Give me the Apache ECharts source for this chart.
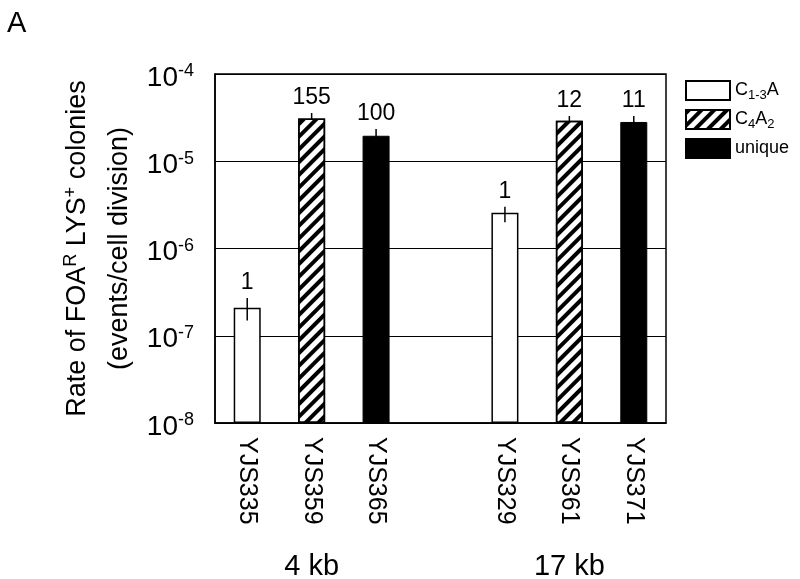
<!DOCTYPE html>
<html><head><meta charset="utf-8">
<script src="https://cdn.jsdelivr.net/npm/echarts@6/dist/echarts.min.js"></script>
<style>html,body{margin:0;padding:0;background:#fff}#c{width:800px;height:579px}</style>
</head><body><div id="c"></div>
<script>
// ---- data ----
const categories = ['YJS335', 'YJS359', 'YJS365', '', 'YJS329', 'YJS361', 'YJS371'];
const groupLabels = ['', '4 kb', '', '', '', '17 kb', ''];
const seriesNames = ['C1-3A', 'C4A2', 'unique'];
const rateC13A   = [2.1e-7, null, null, null, 2.57e-6, null, null];
const rateC4A2   = [null, 3.1e-5, null, null, null, 2.92e-5, null];
const rateUnique = [null, null, 1.96e-5, null, null, null, 2.82e-5];
const errLow  = [1.5e-7, 2.7e-5, 1.7e-5, null, 2.0e-6, 2.6e-5, 2.5e-5];
const errHigh = [2.7e-7, 3.57e-5, 2.34e-5, null, 3.0e-6, 3.3e-5, 3.3e-5];
const counts  = ['1', '155', '100', '', '1', '12', '11'];
const yMin = 1e-8, yMax = 1e-4;

const FONT = 'Liberation Sans, Arial, Helvetica, sans-serif';

function errData(rates) {
  const out = [];
  rates.forEach((v, i) => { if (v != null) out.push([i, errLow[i], errHigh[i]]); });
  return out;
}
function renderErr(params, api) {
  const x = api.value(0);
  const lo = api.coord([x, api.value(1)]);
  const hi = api.coord([x, api.value(2)]);
  return {
    type: 'group',
    children: [
      { type: 'line', shape: { x1: lo[0], y1: lo[1], x2: hi[0], y2: hi[1] },
        style: { stroke: '#000', lineWidth: 1.5 } },
      { type: 'text', x: hi[0], y: hi[1] - 4,
        style: { text: counts[x], fontSize: 23, fontFamily: FONT, fill: '#000',
                 align: 'center', verticalAlign: 'bottom' } }
    ]
  };
}
function errSeries(rates, z) {
  return { type: 'custom', coordinateSystem: 'cartesian2d', silent: true, z: z,
    encode: { x: 0, y: [1, 2] }, data: errData(rates), renderItem: renderErr };
}
const legendRich = {
  'C1-3A': '{n|C}{sub|1-3}{n|A}',
  'C4A2': '{n|C}{sub|4}{n|A}{sub|2}',
  'unique': '{n|unique}'
};

const chart = echarts.init(document.getElementById('c'), null, { renderer: 'canvas' });
chart.setOption({
  animation: false,
  backgroundColor: '#fff',
  textStyle: { fontFamily: FONT, color: '#000' },
  graphic: [{ type: 'text', left: 7, top: 9,
    style: { text: 'A', fontSize: 29, fontFamily: FONT, fill: '#000' } }],
  grid: { left: 215, right: 134, top: 74, bottom: 156, show: true, outerBoundsMode: 'none',
    containLabel: false, borderColor: '#000', borderWidth: 1.5, backgroundColor: 'transparent' },
  legend: {
    orient: 'vertical', left: 680, top: 75, itemWidth: 44, itemHeight: 19, itemGap: 7,
    icon: 'rect', data: seriesNames,
    formatter: name => legendRich[name],
    textStyle: { color: '#000', fontFamily: FONT,
      rich: { n: { fontSize: 18, fontFamily: FONT, color: '#000' },
              sub: { fontSize: 13, fontFamily: FONT, color: '#000', padding: [10, 0, 0, 0] } } }
  },
  xAxis: [{
    type: 'category', data: categories,
    axisLine: { show: true, lineStyle: { color: '#000', width: 1.5 } },
    axisTick: { show: false },
    axisLabel: { interval: 0, rotate: -90, margin: 14, fontSize: 25, color: '#000', fontFamily: FONT }
  }, {
    type: 'category', data: groupLabels, position: 'bottom', offset: 129,
    axisLine: { show: false }, axisTick: { show: false }, splitLine: { show: false },
    axisLabel: { interval: 0, margin: 0, fontSize: 29, color: '#000', fontFamily: FONT }
  }],
  yAxis: {
    type: 'log', logBase: 10, min: yMin, max: yMax, startValue: yMin,
    axisLine: { show: true, lineStyle: { color: '#000', width: 1.5 } },
    axisTick: { show: false },
    splitLine: { show: true, lineStyle: { color: '#000', width: 1.2 } },
    axisLabel: {
      margin: 21, color: '#000',
      formatter: v => '{b|10}{s|' + Math.round(Math.log10(v)) + '}',
      rich: { b: { fontSize: 28, fontFamily: FONT, color: '#000', padding: [8, 0, 0, 0] },
              s: { fontSize: 18, fontFamily: FONT, color: '#000', padding: [0, 0, 5, 0] } }
    },
    name: '{t|Rate of FOA}{sup|R}{t| LYS}{sup|+}{t| colonies}\n{t|(events/cell division)}',
    nameLocation: 'middle', nameGap: 74, nameRotate: 90,
    nameTextStyle: { rich: {
      t: { fontSize: 27, fontFamily: FONT, color: '#000', lineHeight: 42 },
      sup: { fontSize: 18, fontFamily: FONT, color: '#000', lineHeight: 20, padding: [0, 0, 14, 0] } } }
  },
  series: [
    { name: seriesNames[0], type: 'bar', data: rateC13A, barWidth: 27, barGap: '-100%', z: 2,
      itemStyle: { color: '#fff', borderColor: '#000', borderWidth: 1.5 } },
    { name: seriesNames[1], type: 'bar', data: rateC4A2, barWidth: 27, barGap: '-100%', z: 2,
      itemStyle: { color: '#fff', borderColor: '#000', borderWidth: 1.5,
        decal: { symbol: 'rect', symbolSize: 1, dashArrayX: [1, 0], dashArrayY: [4, 5],
                 rotation: -Math.PI / 4, color: '#000' } } },
    { name: seriesNames[2], type: 'bar', data: rateUnique, barWidth: 27, barGap: '-100%', z: 2,
      itemStyle: { color: '#000', borderColor: '#000', borderWidth: 1 } },
    errSeries(rateC13A, 3),
    errSeries(rateC4A2, 1),
    errSeries(rateUnique, 1)
  ]
});
</script></body></html>
